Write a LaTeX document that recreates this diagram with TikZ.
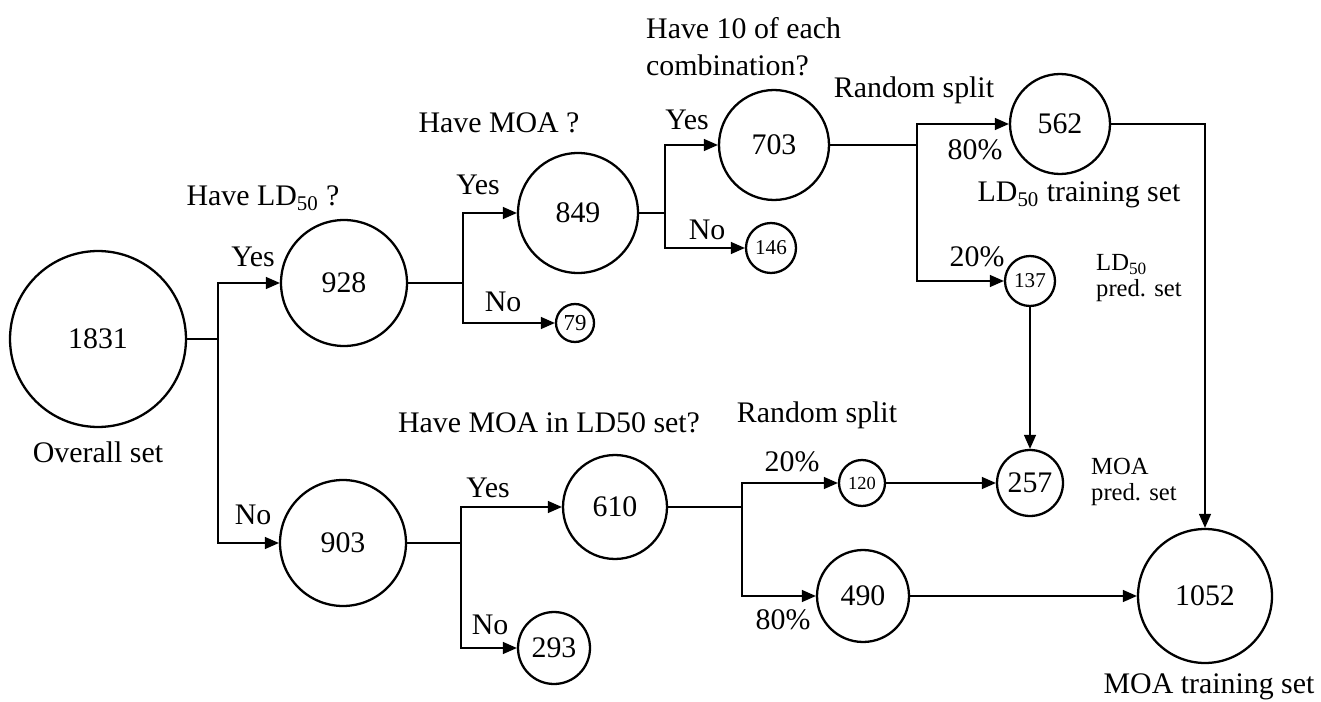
\documentclass[tikz,border=0pt]{standalone}
\usepackage{fontspec}
\setmainfont{Liberation Serif}
\usetikzlibrary{arrows.meta,positioning}

\begin{document}
\begin{tikzpicture}[
  x=0.02cm,y=-0.02cm,
  every node/.style={font=\fontsize{17}{21}\selectfont},
  cs/.style={circle,draw,line width=1.3pt,inner sep=0pt,minimum size=#1*0.4mm},
  sm/.style={font=\fontsize{#1}{#1}\selectfont},
  note/.style={font=\fontsize{14}{15}\selectfont,align=left,anchor=west},
  ln/.style={line width=0.75pt},
  a/.style={-{Triangle[length=2.8mm,width=2.4mm]},line width=0.75pt}
]
  \useasboundingbox (0,0) rectangle (1321,702);
  % sets
  \node[cs=88] (n1831) at (98,339) {1831};
  \node[cs=63] (n928) at (344,283) {928};
  \node[cs=63] (n903) at (343,543) {903};
  \node[cs=60] (n849) at (578,213) {849};
  \node[cs=19,sm=13] (n79) at (575,323) {79};
  \node[cs=55] (n703) at (774,145) {703};
  \node[cs=25,sm=12] (n146) at (771,248) {146};
  \node[cs=50] (n562) at (1060,124) {562};
  \node[cs=25,sm=12] (n137) at (1030,281) {137};
  \node[cs=52] (n610) at (615,507) {610};
  \node[cs=36] (n293) at (554,648) {293};
  \node[cs=23,sm=10.5] (n120) at (862,483) {120};
  \node[cs=46] (n490) at (863,596) {490};
  \node[cs=33] (n257) at (1030,483) {257};
  \node[cs=67] (n1052) at (1205,596) {1052};
  % branch points
  \coordinate (j1) at (218,339);
  \coordinate (j2) at (463,283);
  \coordinate (j3) at (665,213);
  \coordinate (j4) at (917,145);
  \coordinate (j5) at (461,543);
  \coordinate (j6) at (742,507);
  % labels
  \node (overall) at (98,452) {Overall set};
  \node (q1) at (263,198) {Have LD\textsubscript{50} ?};
  \node (q2) at (499,123) {Have MOA ?};
  \node[align=left,anchor=west] (q3) at (640,47) {Have 10 of each\\combination?};
  \node (q4) at (549,423) {Have MOA in LD50 set?};
  \node (rs1) at (914,90) {Random split};
  \node (rs2) at (817,415) {Random split};
  \node (y1) at (253,257) {Yes};
  \node (no1) at (253,515) {No};
  \node (y2) at (478,185) {Yes};
  \node (no2) at (503,302) {No};
  \node (y3) at (687,120) {Yes};
  \node (no3) at (707,230) {No};
  \node (y4) at (488,488) {Yes};
  \node (no4) at (490,625) {No};
  \node (p80a) at (975,150) {80\%};
  \node (p20a) at (977,257) {20\%};
  \node (p20b) at (792,462) {20\%};
  \node (p80b) at (783,620) {80\%};
  \node (ldtrain) at (1079,195) {LD\textsubscript{50} training set};
  \node[note] (ldpred) at (1090,278) {LD\textsubscript{50}\\pred. set};
  \node[note] (moapred) at (1085,482) {MOA\\pred. set};
  \node (moatrain) at (1209,687) {MOA training set};
  % connectors
  \foreach \x/\y in {n1831/j1,n928/j2,n849/j3,n703/j4,n903/j5,n610/j6}
    {\draw[ln] (\x) -- (\y);}
  \foreach \j/\u/\v in {j1/n928/n903,j2/n849/n79,j3/n703/n146,
                        j4/n562/n137,j5/n610/n293,j6/n120/n490}
    {\draw[a] (\j) |- (\u); \draw[a] (\j) |- (\v);}
  \draw[a] (n120) -- (n257);
  \draw[a] (n137) -- (n257);
  \draw[a] (n490) -- (n1052);
  \draw[a] (n562) -| (n1052);
\end{tikzpicture}
\end{document}
